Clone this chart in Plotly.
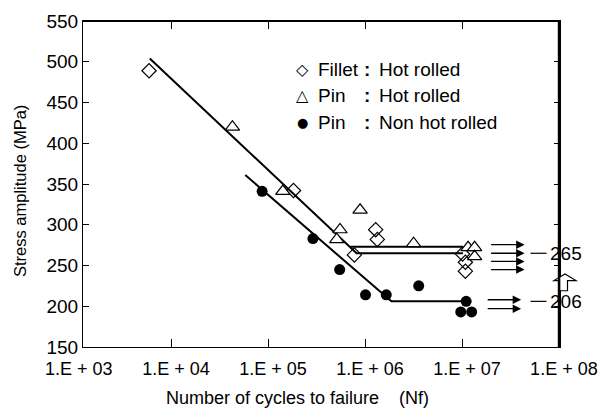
import plotly.graph_objects as go
import numpy as np

# ---------------- data ----------------
fillet_N = [5.8e3, 1.79e5, 7.6e5, 1.26e6, 1.31e6, 9.9e6, 1.06e7, 1.06e7]
fillet_S = [489, 342, 263, 294, 282, 264, 254, 243]

pin_hot_N = [4.2e4, 1.39e5, 5.4e5, 5.0e5, 8.7e5, 3.1e6, 1.13e7, 1.32e7, 1.32e7]
pin_hot_S = [420, 341, 294, 282, 318, 277, 272, 272, 261]

pin_non_N = [8.5e4, 2.84e5, 5.36e5, 9.9e5, 1.62e6, 3.5e6, 1.08e7, 9.5e6, 1.23e7]
pin_non_S = [341, 283, 245, 214, 214, 225, 206, 193, 193]

# fitted S-N lines
fit_fillet_N = [5.9e3, 8.0e5, 1.0e7]
fit_fillet_S = [504, 265, 265]
fit_pin_hot_N = [6.9e5, 1.0e7]
fit_pin_hot_S = [273, 273]
fit_pin_non_N = [5.7e4, 1.83e6, 1.05e7]
fit_pin_non_S = [361, 206, 206]

# run-out arrows (tail N, head N, stress)
runout_hot_S = [275.5, 265, 255, 245]
runout_hot_N = [10**7.275, 10**7.636]
runout_non_S = [208, 197]
runout_non_N = [10**7.24, 10**7.60]

# fatigue limits
limits = [265, 206]

tick_vals = [1e4, 1e5, 1e6, 1e7, 1e8]
tick_text = ["1.E + 04", "1.E + 05", "1.E + 06", "1.E + 07", "1.E + 08"]
first_tick_text = "1.E + 03"
y_ticks = [150, 200, 250, 300, 350, 400, 450, 500, 550]

FONT = "Liberation Sans, Arial, sans-serif"
SYMFONT = "DejaVu Sans, Liberation Sans, sans-serif"
XR = [3.0825, 8.001]
YR = [150, 550]

fig = go.Figure()

for n, s in [(fit_fillet_N, fit_fillet_S), (fit_pin_hot_N, fit_pin_hot_S), (fit_pin_non_N, fit_pin_non_S)]:
    fig.add_trace(go.Scatter(x=n, y=s, mode="lines", line=dict(color="black", width=2),
                             showlegend=False, hoverinfo="skip"))

fig.add_trace(go.Scatter(x=fillet_N, y=fillet_S, mode="markers", name="Fillet : Hot rolled",
                         marker=dict(symbol="diamond-open", size=11, color="black", line=dict(width=1.2)),
                         showlegend=False))
fig.add_trace(go.Scatter(x=pin_hot_N, y=pin_hot_S, mode="markers", name="Pin : Hot rolled",
                         marker=dict(symbol="triangle-up", size=12.5, color="white",
                                     line=dict(width=1.2, color="black")),
                         showlegend=False))
fig.add_trace(go.Scatter(x=pin_non_N, y=pin_non_S, mode="markers", name="Pin : Non hot rolled",
                         marker=dict(symbol="circle", size=11, color="black"),
                         showlegend=False))

ann = []
# runout arrows
for ss, nn in [(runout_hot_S, runout_hot_N), (runout_non_S, runout_non_N)]:
    for s in ss:
        ann.append(dict(x=np.log10(nn[1]), y=s, ax=np.log10(nn[0]), ay=s, xref="x", yref="y",
                        axref="x", ayref="y", text="", showarrow=True, arrowhead=2,
                        arrowsize=1.3, arrowwidth=1.3, arrowcolor="black"))

def xfrac(px):
    return (px - 83.3) / 476.7

# limit labels
for v in limits:
    ann.append(dict(x=xfrac(548.5), y=v, xref="paper", yref="y", text=str(v), showarrow=False,
                    xanchor="left", yanchor="middle", font=dict(family=FONT, size=19, color="black")))

# legend
rows = [(0.8505, "◇", 16, "Fillet", "Hot rolled"), (0.7707, "△", 16, "Pin", "Hot rolled"),
        (0.689, "●", 13, "Pin", "Non hot rolled")]
for y, sym, sz, a, b in rows:
    ann.append(dict(x=xfrac(302.3), y=y, xref="paper", yref="paper", text=sym, showarrow=False,
                    xanchor="center", yanchor="middle", font=dict(family=SYMFONT, size=sz, color="black")))
    ann.append(dict(x=xfrac(316), y=y, xref="paper", yref="paper", text=a, showarrow=False,
                    xanchor="left", yanchor="middle", font=dict(family=FONT, size=19, color="black")))
    ann.append(dict(x=xfrac(367.5), y=y, xref="paper", yref="paper", text="<b>:</b>", showarrow=False,
                    xanchor="center", yanchor="middle", font=dict(family=FONT, size=19, color="black")))
    ann.append(dict(x=xfrac(376.7), y=y, xref="paper", yref="paper", text=b, showarrow=False,
                    xanchor="left", yanchor="middle", font=dict(family=FONT, size=19, color="black")))

# first x tick label (10^3 lies just outside the plotted range)
ann.append(dict(x=(3 - XR[0]) / (XR[1] - XR[0]), y=0, xref="paper", yref="paper", text=first_tick_text,
                showarrow=False, xanchor="center", yanchor="top", xshift=4, yshift=-10,
                font=dict(family=FONT, size=18, color="black")))

# axis titles
ann.append(dict(x=xfrac(298), y=-0.155, xref="paper", yref="paper",
                text="Number of cycles to failure\u00a0\u00a0\u00a0\u00a0(Nf)", showarrow=False,
                xanchor="center", yanchor="middle", font=dict(family=FONT, size=18, color="black")))
ann.append(dict(x=xfrac(21), y=0.4773, xref="paper", yref="paper", text="Stress amplitude (MPa)",
                textangle=-90, showarrow=False, xanchor="center", yanchor="middle",
                font=dict(family=FONT, size=16.5, color="black")))

shapes = []
for v in limits:
    shapes.append(dict(type="line", xref="paper", yref="y", x0=xfrac(530.5), x1=xfrac(546.5), y0=v, y1=v,
                       line=dict(color="black", width=1.2)))
# hollow up arrow between the two limits
ax0, ax1 = xfrac(554), xfrac(576)
sx0, sx1 = xfrac(559.5), xfrac(567.5)
path = (f"M {sx0},219 L {sx1},219 L {sx1},231.5 L {ax1},231.5 L {xfrac(565)},239.5 "
        f"L {ax0},231.5 L {sx0},231.5 Z")
shapes.append(dict(type="path", xref="paper", yref="y", path=path, fillcolor="white",
                   line=dict(color="black", width=1.2)))
# frame: heavier right edge plus top edge
shapes.append(dict(type="line", xref="paper", yref="paper", x0=0.998, x1=0.998, y0=0, y1=1,
                   line=dict(color="black", width=2.5)))
shapes.append(dict(type="line", xref="paper", yref="paper", x0=0, x1=1, y0=0.999, y1=0.999,
                   line=dict(color="black", width=1.5)))

fig.update_layout(
    template="none",
    width=599, height=420,
    margin=dict(l=83, r=39, t=21, b=73, autoexpand=False),
    paper_bgcolor="white", plot_bgcolor="white",
    font=dict(family=FONT, size=19, color="black"),
    xaxis=dict(type="log", range=XR, tickvals=tick_vals, ticktext=tick_text, automargin=False,
               ticks="inside", ticklen=8, tickwidth=1, tickcolor="black",
               showline=True, linecolor="black", linewidth=1, mirror="ticks",
               showgrid=False, zeroline=False, ticklabelshift=4, ticklabelstandoff=5,
               ticklabeloverflow="allow",
               tickfont=dict(family=FONT, size=18, color="black")),
    yaxis=dict(range=YR, tickvals=y_ticks, ticks="inside", ticklen=6, tickwidth=1, tickcolor="black",
               showline=True, linecolor="black", linewidth=1, mirror="ticks", automargin=False,
               showgrid=False, zeroline=False,
               tickfont=dict(family=FONT, size=19, color="black")),
    annotations=ann, shapes=shapes, showlegend=False,
)

fig.write_html("out.html")
